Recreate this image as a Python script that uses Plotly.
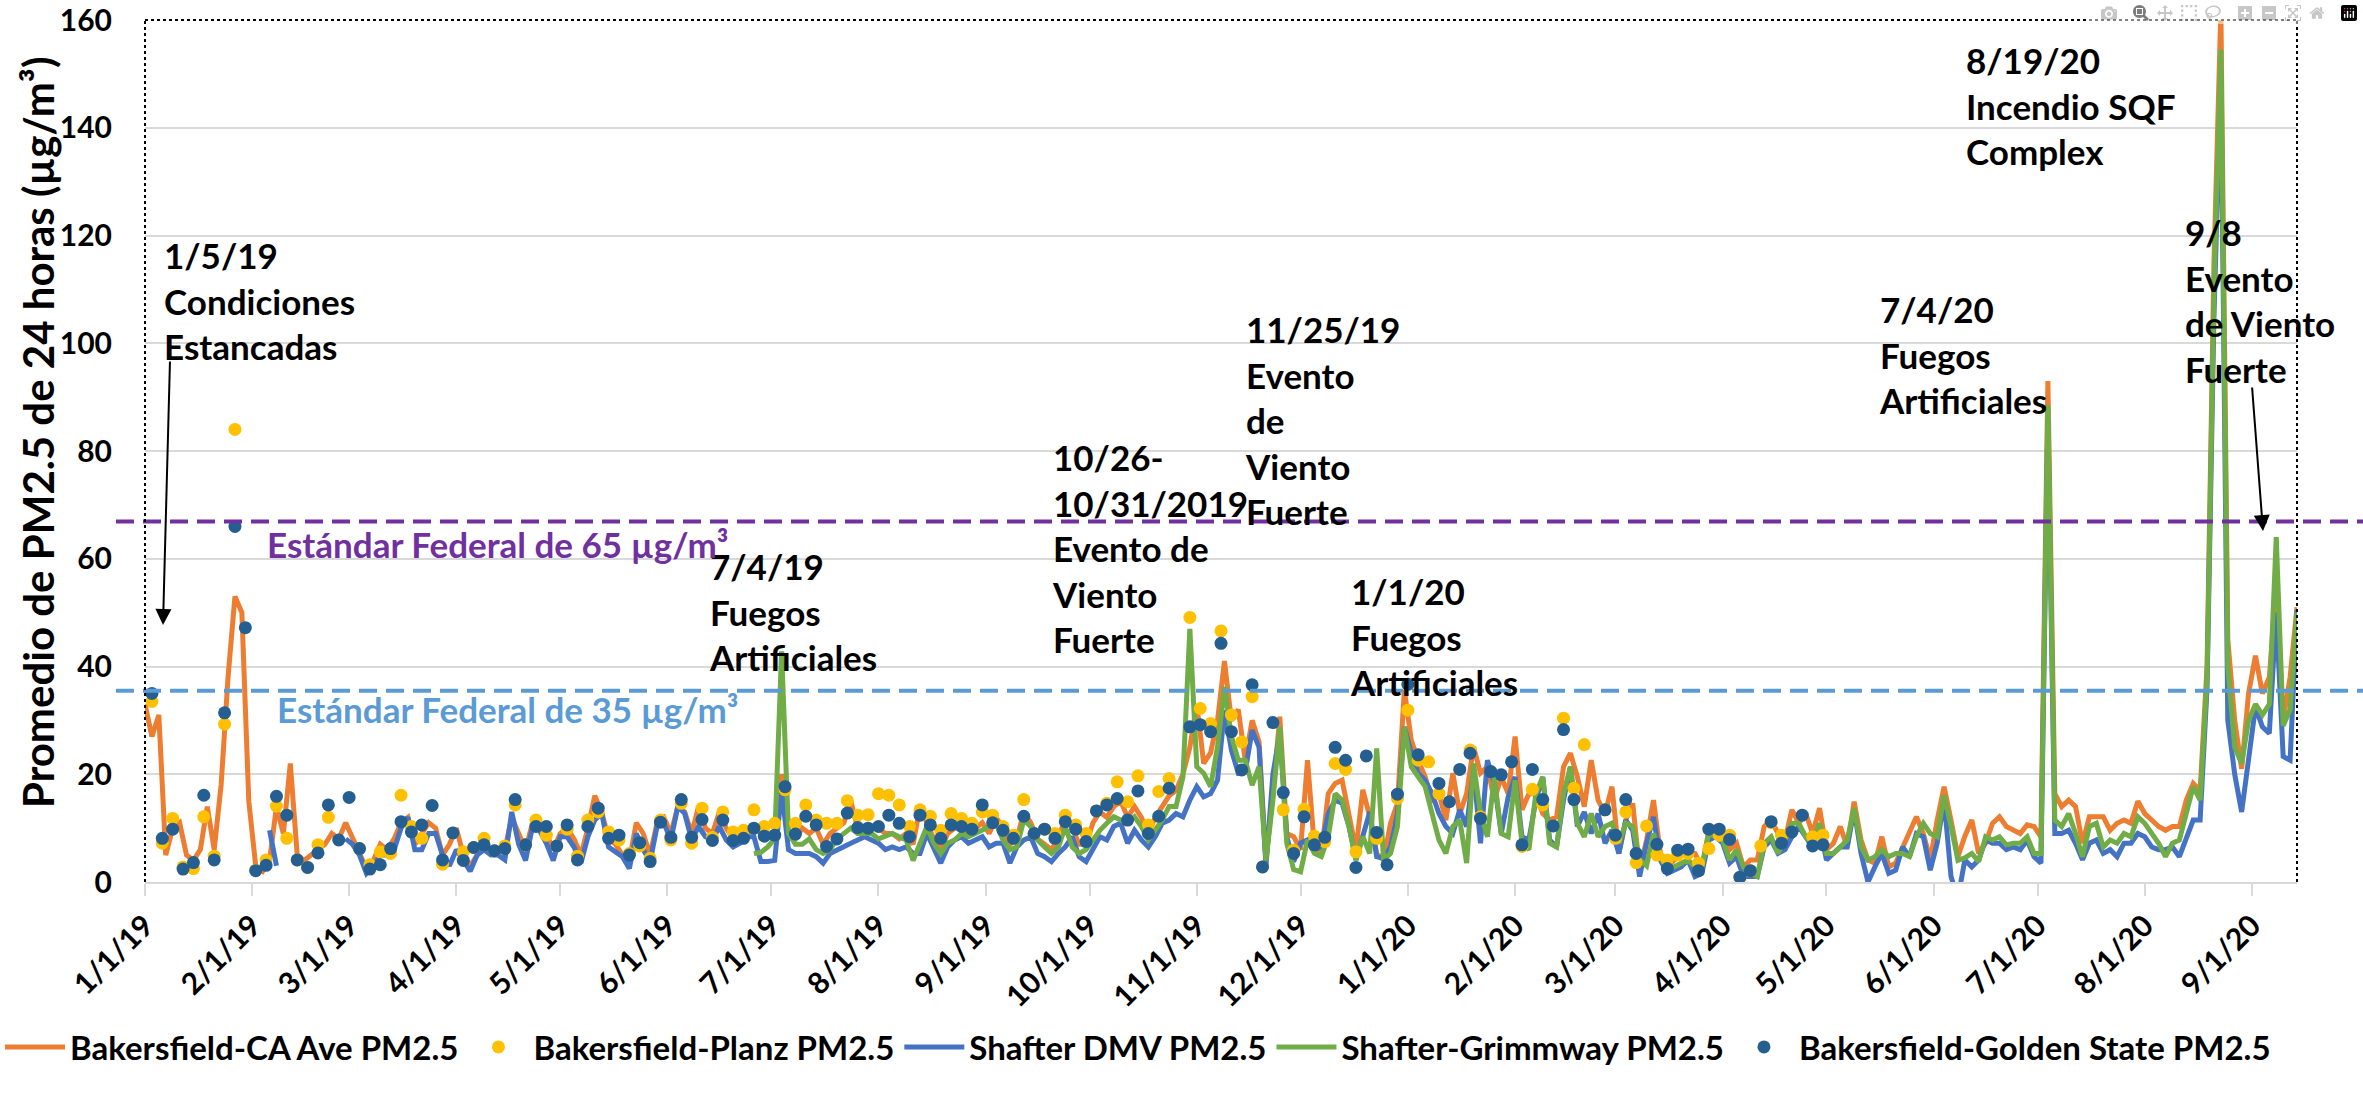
import pandas as pd
import plotly.graph_objects as go

line_start = "2019-01-01"
ca_ave = [
    33, 27, 31, 5, 10, 11, 5, 4, 6, 14,
    6, 18, 38, 53, 50, 15, 3, 2, 4, 14,
    9, 22, 5, 4, 5, 6, 7, 9, 8, 11,
    8, 5, 2.5, 4, 7, 6, 8, 11, 12, 7,
    9, 11, 10, 5, 7, 10, 5, 3, 5, 7,
    6, 6, 6, 12, 9, 6, 11, 10, 9, 6,
    9, 10, 8, 5, 10, 16, 13, 8, 7, 5,
    4, 11, 9, 5, 11, 12, 9, 14, 13, 9,
    14, 10, 9, 13, 10, 8, 9, 9, 10, 9,
    9, 8, 20, 9, 8, 10, 9, 10, 7, 9,
    10, 11, 15, 10, 9, 10, 10, 9, 9, 8,
    9, 7, 14, 11, 8, 6, 9, 10, 10, 9,
    10, 11, 9, 12, 10, 7, 8, 13, 11, 8,
    7, 6, 8, 12, 10, 7, 7, 11, 13, 12,
    14, 15, 12, 14, 12, 9, 12, 14, 16, 17,
    20, 25, 33, 22, 24, 30, 41, 30, 32, 22.6,
    30, 26, 4, 16.4, 30.7, 9, 8.4, 6, 22.6, 6.5,
    5.3, 16.4, 18.3, 18.9, 12.7, 6, 17.1, 12.1, 5.3, 4.1,
    10.9, 14.6, 35.6, 26.3, 22.6, 19.5, 15.2, 16.4, 11.5, 20.2,
    12.7, 16.4, 25.1, 20.2, 21.4, 15.2, 19.5, 16.4, 27, 13.4,
    16.4, 16.4, 12.7, 11.5, 12.1, 21.4, 23.9, 19.5, 14, 22.6,
    15.2, 12.7, 17.7, 5.3, 11.5, 14.6, 2.2, 7.8, 15.2, 5.3,
    2.8, 4.1, 5.3, 5.3, 5.3, 2.8, 9.6, 10.3, 8.4, 6,
    7.2, 2.8, 4.1, 4.1, 10.3, 11.5, 9, 7.8, 13.4, 10.9,
    12.7, 9, 13.7, 6, 7.2, 10.3, 6.5, 14.9, 7.8, 4.1,
    3.5, 8.4, 2.8, 3.5, 6.5, 9.6, 12.1, 9, 4.1, 11.5,
    17.7, 11.5, 4.7, 8.5, 11.5, 5.3, 7.2, 10.9, 12.1, 10.3,
    9.6, 9, 10.6, 10.3, 8.4, 93, 16.4, 14, 15.2, 14,
    7.2, 12.1, 12.1, 12.1, 9.6, 10.9, 11.5, 10.9, 15, 12.7,
    11.5, 10.3, 9.6, 10.3, 10.3, 15.2, 18.3, 17, 40, 115,
    162, 45, 30, 21, 35, 42, 35, 38, 55, 30,
    38, 51,
]
shafter_dmv = [
    None, None, None, None, None, None, None, None, None, None,
    None, None, None, None, None, None, None, None, 9.6, 3,
    None, None, None, None, None, None, None, None, None, 8,
    7, 5, 1.6, 3, 5, 5, 6, 10, 12, 6,
    6, 9, 9, 5, 3, 6, 4, 2, 5, 6,
    5, 5, 4.1, 13, 7, 4, 10.3, 9.6, 7.2, 4,
    8.4, 8.4, 6.5, 3.5, 8.4, 11.5, 12.7, 6.5, 5.6, 4.7,
    2.5, 9, 6, 3.8, 10.3, 10.9, 7.8, 14, 12.7, 7.8,
    10.3, 8.4, 7.8, 10.3, 7.8, 6.5, 7.2, 8.4, 8.4, 3.8,
    3.8, 4, 17, 6, 5.3, 5.3, 5.3, 4.7, 3.5, 5.3,
    6, 6.5, 7.2, 7.8, 8.4, 7.8, 7.2, 6, 6.5, 6,
    6.5, 5.3, 5.3, 9, 6, 3.5, 6.5, 7.8, 8.4, 7.2,
    7.8, 8.4, 6.5, 7.2, 7.2, 3.5, 6.5, 7.8, 8.4, 5.3,
    4.7, 3.8, 5.3, 6.5, 8.4, 4.7, 3.8, 6, 8.4, 7.8,
    10.3, 10.9, 7.2, 9.6, 7.8, 6.5, 8.4, 10.9, 11.5, 12.7,
    12.1, 15.2, 17.7, 15.8, 16.4, 18.9, 31.9, 24.5, 20.2, 20.5,
    28.2, 25, 3, 20, 27.6, 8.4, 3.8, 7.2, 7.8, 6,
    6.5, 12.7, 15.2, 14.6, 10.3, 4.1, 9, 13, 4.7, 4.4,
    6.5, 12.7, 28.8, 23.9, 20.2, 18.9, 16.4, 12.7, 10.3, 9,
    13.4, 10.3, 20.8, 7.2, 22.6, 18.3, 9, 15.8, 19.5, 8.4,
    7.8, 15.2, 19.5, 7.8, 6.5, 15.2, 21.4, 10.3, 13, 9,
    12.7, 7.2, 9.6, 5.3, 11.5, 9.6, 1, 7.2, 12.1, 4.1,
    1.6, 2.2, 2.8, 4.1, 1, 1.6, 7.8, 8.4, 7.2, 3.5,
    4.7, 1, 1, 1, 6.5, 7.8, 5.3, 6, 8.4, 10.3,
    8.4, 6.5, 10.3, 4.1, 5.3, 6.5, 6.5, 13.4, 5.3, 0,
    2.8, 5.3, 1.6, 2.2, 6.5, 4.7, 9, 8.4, 2.2, 7.2,
    15.2, 1, -3, 4.1, 2.8, 4.1, 7.8, 7.2, 7.2, 6,
    6.5, 6, 7.8, 4.7, 3.5, 86, 9, 9, 9.6, 7.2,
    4.1, 7.2, 7.8, 5.3, 6, 4.7, 7.2, 7.2, 9, 8.4,
    6.5, 6, 6, 6.5, 4.7, 8.4, 11.5, 11.5, 36, 105,
    150, 30, 20, 13, 22.6, 32.5, 28.8, 27.6, 50, 23.3,
    22.6, 50.5,
]
grimmway = [None] * 88 + [
    5.3, 5.5,
    6.5, 8, 42.8, 9, 7, 7, 8, 6, 5.3, 6,
    8, 9, 10, 9, 9, 9, 8, 8.4, 9, 8.4,
    7.8, 4, 7, 10.3, 7.2, 5.3, 7.2, 7.8, 9, 8.4,
    9, 9.6, 10.3, 10.9, 7.8, 6, 6.5, 11.5, 10.3, 7.8,
    6.5, 5.3, 6.5, 10.3, 6.5, 5.3, 6, 7.8, 9.6, 10.9,
    12.1, 11.5, 10.9, 12.1, 10.3, 7.8, 9.6, 11.5, 14, 14,
    19.5, 47, 21.4, 20.2, 17.7, 25.1, 36.2, 27, 22.6, 22.6,
    18, 21.4, 4, 15.2, 28.8, 7.2, 2.3, 1.9, 7.8, 5.3,
    4.7, 8.4, 16.4, 15.2, 10.3, 4.1, 8.4, 5.3, 24.8, 4.1,
    5.3, 10.3, 28.8, 21.4, 19.5, 17.7, 12.7, 7.8, 5.3, 10.3,
    11.5, 3.5, 22, 12.7, 8.4, 19.5, 9, 8.4, 18.9, 7.2,
    6, 16.4, 19.5, 7.2, 6.5, 16.4, 21.4, 10.9, 8.4, 12.7,
    8.4, 10.3, 10.9, 7.2, 10.9, 10.3, 4.1, 3, 9, 4.7,
    2.2, 2.8, 3.5, 4.1, 2.8, 2.8, 9, 8.4, 7.8, 4.1,
    6, 2.8, 1.6, 1, 7.2, 8.4, 5.3, 7.8, 10.9, 10.9,
    8.4, 7.2, 10.9, 5.3, 5.3, 6.5, 7.8, 13.7, 6.5, 4.1,
    4.7, 6, 4.7, 5.3, 5.3, 4.7, 8.4, 10.9, 9, 8.4,
    16.1, 10.3, 4, 4.5, 5.3, 3.8, 8.4, 7.8, 8.4, 6.9,
    7.2, 7.2, 8.4, 5.3, 5.3, 88.5, 11.5, 10.3, 12.7, 9,
    4.7, 10.3, 10.9, 6.5, 7.8, 7.2, 9, 8.4, 12.1, 10.9,
    9, 7.2, 4.7, 7.2, 7.8, 12.7, 17.7, 15.2, 38, 110,
    154.5, 40, 25, 22, 30, 33, 31, 33, 64, 29,
    32, 50,
]

# 1-in-3 day filter samples starting 1/3/19
dot_start = "2019-01-03"
planz = [
    33.5, 7.2, 11.8, 2.8, 2.5, 12.1, 4.8, 29.3, 84, None,
    2.2, 4.1, 14.1, 8.1, 4.1, 2.7, 6.9, 12.0, None, None,
    6.2, 3.2, 5.6, 5.3, 16.1, 10.3, 8.1, None, 3.3, 9.1,
    5.6, 6.4, 8.1, 5.8, 6.7, 14.3, 6.9, 11.5, 8.7, 6.7,
    9.8, 4.8, 11.5, 13.0, 9.3, 7.8, 5.3, 6.7, 4.4, 11.5,
    7.8, 14.6, 7.2, 13.7, 8.3, 13.0, 9.3, 9.6, 13.4, 10.3,
    10.9, 17.1, 10.9, 14.3, 11.5, 10.9, 10.9, 15.1, 12.4, 12.5,
    16.4, 16.1, 14.3, 10.3, 13.4, 12.2, 9.6, 12.7, 11.8, 10.9,
    13.0, 12.4, 10.3, 8.7, 15.3, 9.0, 9.8, 9.0, 12.4, 10.6,
    9.0, 13.2, 14.6, 18.6, 14.9, 19.7, 10.6, 16.8, 19.2, None,
    49.1, 32.2, 29.4, 46.6, 31.0, 26.0, 34.4, 2.8, None, 13.4,
    5.9, 13.5, 8.5, 7.5, 22.0, 20.9, 5.6, None, 8.1, None,
    15.5, 31.9, 22.6, 22.3, 16.4, None, None, 24.5, 12.1, None,
    None, None, 6.6, 17.2, 14.3, None, 30.4, 17.4, 25.5, None,
    13.4, 8.1, 13.0, 3.6, 10.4, 5.0, 4.1, 5.0, 5.3, 3.5,
    6.2, 8.7, 8.7, 0.9, 2.1, 6.7, 11.0, 8.7, None, None,
    8.4, 8.7,
]
golden_state = [
    35.0, 8.1, 9.8, 2.4, 3.6, 16.1, 4.1, 31.4, 66, 47.2,
    2.1, 3.1, 15.9, 12.4, 4.1, 2.7, 5.4, 14.3, 7.8, 15.7,
    6.2, 2.4, 3.2, 6.2, 11.2, 9.3, 10.6, 14.2, 4.1, 9.1,
    4.0, 6.4, 6.9, 5.8, 6.2, 15.3, 6.9, 10.3, 10.3, 6.7,
    10.6, 4.1, 10.3, 13.7, 8.1, 8.7, 5.0, 7.3, 3.8, 11.1,
    8.3, 15.3, 8.3, 11.6, 7.7, 11.5, 7.7, 8.1, 10.0, 8.5,
    8.7, 17.7, 8.9, 12.2, 10.6, 6.6, 8.0, 12.8, 10.1, 10,
    10.3, 12.4, 10.9, 8.4, 12.4, 10.6, 8.1, 10.6, 10.3, 9.8,
    14.3, 11.0, 9.6, 8.1, 12.2, 9.0, 9.8, 8.1, 11.2, 9.8,
    7.5, 13.2, 14.3, 15.5, 11.5, 16.9, 9.0, 12.2, 17.4, None,
    28.8, 29.2, 27.9, 44.3, 27.9, 20.8, 36.6, 2.8, 29.6, 16.6,
    5.3, 12.1, 6.9, 8.3, 25.0, 22.6, 2.7, 23.4, 9.2, 3.2,
    16.3, 36.7, 23.6, None, 18.3, 14.9, 20.9, 23.9, 11.8, 20.5,
    19.9, 22.3, 6.9, 20.9, 15.3, 10.4, 28.3, 15.3, None, None,
    13.4, 8.7, 15.3, 5.3, None, 7.0, 2.5, 5.9, 6.1, 2.1,
    9.8, 9.8, 7.9, 0.9, 2.1, None, 11.2, 7.2, 9.3, 12.4,
    6.7, 6.9,
]

standard_levels = [66.9, 35.5]
standard_labels = ["Estándar Federal de 65 µg/m³", "Estándar Federal de 35 µg/m³"]
standard_colors = ["#7030A0", "#5B9BD5"]

events = [
    "1/5/19<br>Condiciones<br>Estancadas",
    "7/4/19<br>Fuegos<br>Artificiales",
    "10/26-<br>10/31/2019<br>Evento de<br>Viento<br>Fuerte",
    "11/25/19<br>Evento<br>de<br>Viento<br>Fuerte",
    "1/1/20<br>Fuegos<br>Artificiales",
    "7/4/20<br>Fuegos<br>Artificiales",
    "8/19/20<br>Incendio SQF<br>Complex",
    "9/8<br>Evento<br>de Viento<br>Fuerte",
]
# top-left pixel of each event label
event_pos = [(162, 241), (707, 552), (1050, 443), (1243, 315),
             (1348, 577), (1877, 295), (1964, 46), (2183, 218)]

FONT = "Lato"
L, R, T, B = 145, 2297, 20, 882


def px(x):
    return (x - L) / (R - L)


def py(y):
    return (B - y) / (B - T)


line_days = pd.date_range(line_start, periods=len(ca_ave), freq="2D")
dot_days = pd.date_range(dot_start, periods=len(golden_state), freq="3D")

fig = go.Figure()
fig.add_trace(go.Scatter(x=line_days, y=ca_ave, mode="lines", name="Bakersfield-CA Ave PM2.5",
                         line=dict(color="#ED7D31", width=5), legendrank=1))
fig.add_trace(go.Scatter(x=line_days, y=shafter_dmv, mode="lines", name="Shafter DMV PM2.5",
                         line=dict(color="#4472C4", width=5), legendrank=3))
fig.add_trace(go.Scatter(x=line_days, y=grimmway, mode="lines", name="Shafter-Grimmway PM2.5",
                         line=dict(color="#70AD47", width=5), legendrank=4))
fig.add_trace(go.Scatter(x=dot_days, y=planz, mode="markers", name="Bakersfield-Planz PM2.5",
                         marker=dict(color="#FFC000", size=13), legendrank=2))
fig.add_trace(go.Scatter(x=dot_days, y=golden_state, mode="markers", name="Bakersfield-Golden State PM2.5",
                         marker=dict(color="#255E91", size=13), legendrank=5))

shapes = []
for lvl, col in zip(standard_levels, standard_colors):
    shapes.append(dict(type="line", xref="paper", yref="y", x0=px(116), x1=px(2363), y0=lvl, y1=lvl,
                       line=dict(color=col, width=4, dash="18px,9px")))
# dotted plot-area border
for x0, y0, x1, y1 in [(0, 0, 0, 1), (0, 1, 1, 1), (1, 0, 1, 1)]:
    shapes.append(dict(type="line", xref="paper", yref="paper", x0=x0, y0=y0, x1=x1, y1=y1,
                       line=dict(color="black", width=2, dash="dot")))

annotations = []
for txt, (x, y) in zip(events, event_pos):
    annotations.append(dict(text=txt, xref="paper", yref="paper", x=px(x), y=py(y - 9),
                            xanchor="left", yanchor="top", align="left", showarrow=False,
                            font=dict(family=FONT, size=35, color="black", weight="bold")))
for txt, col, (x, y) in zip(standard_labels, standard_colors, [(265, 544), (275, 709)]):
    annotations.append(dict(text=txt, xref="paper", yref="paper", x=px(x), y=py(y),
                            xanchor="left", yanchor="middle", showarrow=False,
                            font=dict(family=FONT, size=35, color=col, weight="bold")))
# arrows
for (hx, hy), (tx, ty) in [((163, 625), (170, 360)), ((2263, 531), (2252, 386))]:
    annotations.append(dict(text="", xref="paper", yref="paper", x=px(hx), y=py(hy),
                            ax=tx - hx, ay=ty - hy, showarrow=True, arrowhead=2,
                            arrowsize=1.6, arrowwidth=2, arrowcolor="black"))
annotations.append(dict(text="Promedio de PM2.5 de 24 horas (µg/m³)", textangle=-90,
                        xref="paper", yref="paper", x=px(38), y=py(433),
                        xanchor="center", yanchor="middle", showarrow=False,
                        font=dict(family=FONT, size=42, color="black", weight="bold")))

fig.update_layout(
    width=2363, height=1105,
    margin=dict(l=L, r=2363 - R, t=T, b=1105 - B, autoexpand=False),
    paper_bgcolor="white", plot_bgcolor="white",
    font=dict(family=FONT, color="black"),
    shapes=shapes, annotations=annotations,
    showlegend=True,
    legend=dict(orientation="h", x=px(0), xanchor="left", y=py(1047), yanchor="middle",
                font=dict(family=FONT, size=33, weight="bold"), itemwidth=60),
)
fig.update_xaxes(type="date", range=["2019-01-01", "2020-09-14"], dtick="M1", tick0="2019-01-01",
                 tickformat="%-m/%-d/%y", tickangle=-45, ticks="outside", ticklen=12,
                 tickcolor="#D9D9D9", tickwidth=2, showline=True, linecolor="#D9D9D9", linewidth=2,
                 showgrid=False, zeroline=False,
                 tickfont=dict(family=FONT, size=30, weight="bold"))
fig.update_yaxes(range=[0, 160], dtick=20, showgrid=True, gridcolor="#D9D9D9", gridwidth=2,
                 zeroline=False, showline=False, ticks="", ticklabelstandoff=32,
                 tickfont=dict(family=FONT, size=30, weight="bold"))

fig.write_html("out.html", post_script="document.body.style.margin='0';document.body.style.overflow='hidden';")
